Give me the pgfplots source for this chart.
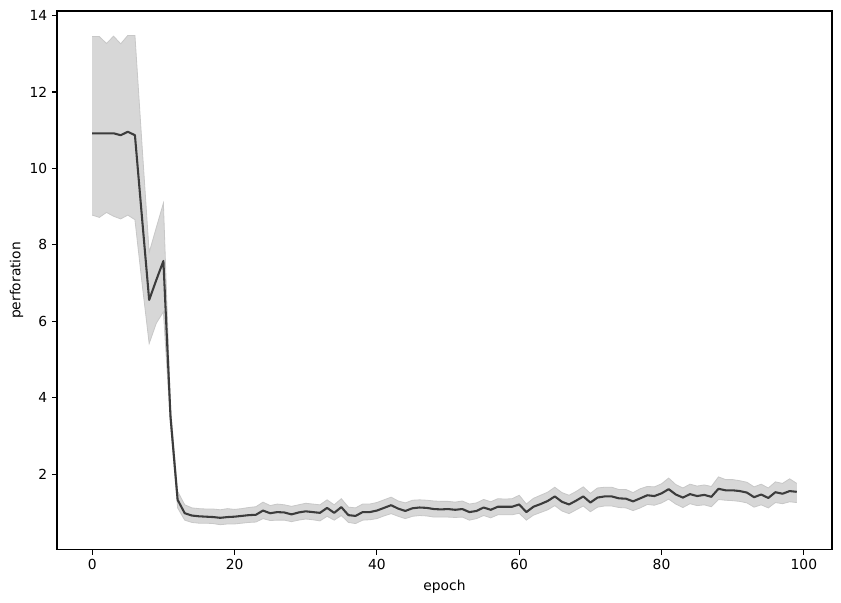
\documentclass[border=0pt]{standalone}
\usepackage{fontspec}
\setmainfont{DejaVu Sans}
\usepackage{pgfplots}
\usepackage{pgfplotstable}
\pgfplotsset{compat=1.18}
\usepgfplotslibrary{fillbetween}
\usetikzlibrary{calc}

\definecolor{meanline}{HTML}{3C3C3C}
\definecolor{band}{HTML}{D7D7D7}
\definecolor{bandedge}{HTML}{C8C8C8}

% epoch, mean, upper and lower edge of the band
\pgfplotstableread{
ep mean up lo
0 10.92 13.45 8.78
1 10.92 13.45 8.72
2 10.92 13.27 8.85
3 10.92 13.46 8.75
4 10.87 13.26 8.68
5 10.96 13.48 8.78
6 10.87 13.48 8.66
7 8.70 10.60 7.00
8 6.56 7.80 5.42
9 7.08 8.45 5.95
10 7.58 9.09 6.25
11 3.50 3.75 3.30
12 1.33 1.55 1.12
13 0.98 1.20 0.80
14 0.92 1.12 0.74
15 0.90 1.10 0.72
16 0.89 1.09 0.72
17 0.88 1.09 0.71
18 0.86 1.07 0.68
19 0.88 1.10 0.70
20 0.89 1.08 0.70
21 0.91 1.10 0.72
22 0.93 1.13 0.74
23 0.94 1.15 0.75
24 1.05 1.27 0.84
25 0.98 1.18 0.79
26 1.01 1.22 0.80
27 1.00 1.20 0.80
28 0.95 1.16 0.76
29 1.00 1.20 0.80
30 1.03 1.24 0.83
31 1.01 1.22 0.81
32 0.99 1.20 0.78
33 1.12 1.33 0.90
34 0.99 1.20 0.80
35 1.14 1.36 0.92
36 0.93 1.14 0.74
37 0.91 1.12 0.71
38 1.01 1.22 0.80
39 1.01 1.22 0.81
40 1.05 1.26 0.84
41 1.12 1.33 0.91
42 1.19 1.40 0.97
43 1.10 1.30 0.90
44 1.04 1.25 0.84
45 1.11 1.32 0.90
46 1.13 1.33 0.92
47 1.12 1.32 0.91
48 1.09 1.30 0.88
49 1.08 1.29 0.88
50 1.09 1.29 0.88
51 1.07 1.27 0.87
52 1.09 1.30 0.88
53 1.01 1.22 0.80
54 1.04 1.25 0.84
55 1.13 1.34 0.92
56 1.07 1.28 0.86
57 1.15 1.36 0.94
58 1.15 1.35 0.94
59 1.15 1.36 0.94
60 1.21 1.45 0.98
61 1.01 1.22 0.80
62 1.15 1.37 0.93
63 1.22 1.45 1.00
64 1.30 1.53 1.07
65 1.42 1.66 1.18
66 1.28 1.52 1.04
67 1.21 1.45 0.97
68 1.31 1.55 1.07
69 1.42 1.67 1.17
70 1.26 1.50 1.02
71 1.39 1.64 1.14
72 1.42 1.66 1.17
73 1.42 1.66 1.17
74 1.37 1.60 1.13
75 1.36 1.60 1.12
76 1.29 1.52 1.05
77 1.37 1.62 1.12
78 1.45 1.68 1.21
79 1.43 1.67 1.19
80 1.50 1.75 1.25
81 1.61 1.90 1.35
82 1.47 1.73 1.22
83 1.39 1.64 1.13
84 1.48 1.74 1.23
85 1.43 1.69 1.18
86 1.46 1.72 1.20
87 1.41 1.68 1.15
88 1.62 1.93 1.34
89 1.58 1.86 1.32
90 1.58 1.86 1.31
91 1.56 1.83 1.29
92 1.52 1.79 1.25
93 1.40 1.67 1.14
94 1.47 1.74 1.20
95 1.38 1.64 1.12
96 1.53 1.80 1.26
97 1.49 1.76 1.23
98 1.56 1.88 1.28
99 1.54 1.76 1.26
}\perf

\begin{document}
\begin{tikzpicture}
\begin{axis}[
    name=ax,
    at={(0,0)}, anchor=south west,
    scale only axis,
    width=196.85mm, height=136.9mm,
    xmin=-4.95, xmax=103.95,
    ymin=0.02, ymax=14.12,
    xtick={0,20,...,100},
    ytick={2,4,...,14},
    tick align=outside,
    tick pos=left,
    major tick length=3.5pt,
    every tick/.style={black, line width=0.8pt},
    axis line style={line width=0.8pt},
    tick label style={font=\fontsize{10}{12}\selectfont},
    label style={font=\fontsize{10}{12}\selectfont},
    /pgf/number format/assume math mode=true,
    xlabel={epoch},
    ylabel={perforation},
    ylabel shift=-2.2pt,
]
\addplot[name path=upper, draw=bandedge, line width=0.6pt] table[x=ep, y=up] {\perf};
\addplot[name path=lower, draw=bandedge, line width=0.6pt] table[x=ep, y=lo] {\perf};
\addplot[band, draw=none] fill between[of=upper and lower];
\addplot[meanline, line width=1.5pt, line join=round] table[x=ep, y=mean] {\perf};
\end{axis}
\useasboundingbox ($(ax.south west)+(-14.48mm,-13.46mm)$) rectangle ($(ax.north east)+(2.29mm,2.79mm)$);
\end{tikzpicture}
\end{document}
